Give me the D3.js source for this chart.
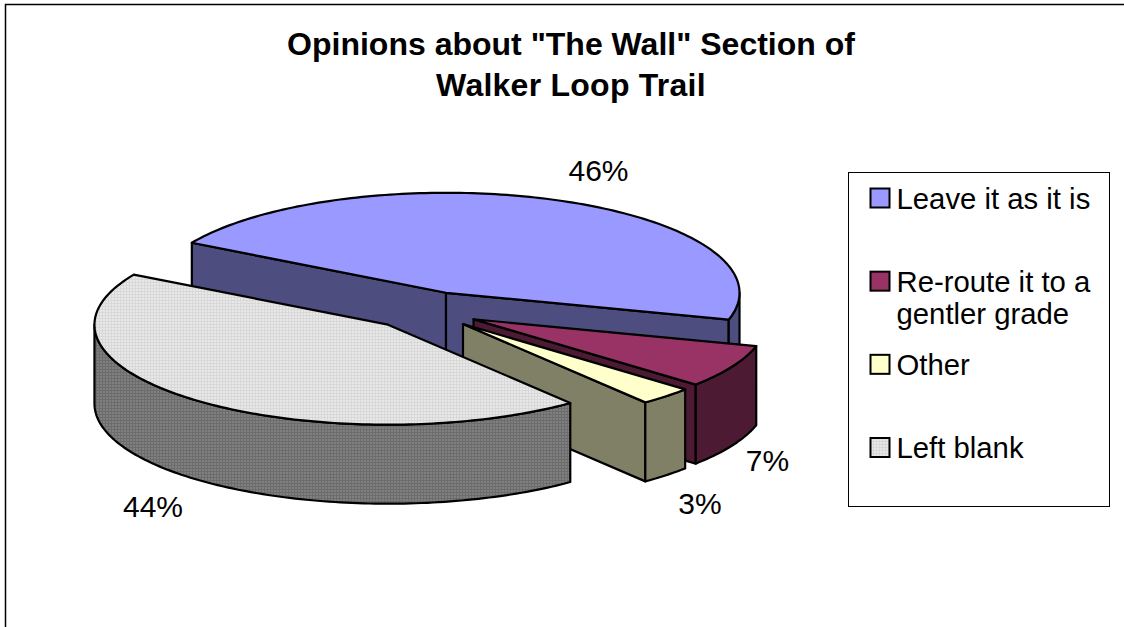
<!DOCTYPE html>
<html>
<head>
<meta charset="utf-8">
<script src="https://cdn.jsdelivr.net/npm/d3@7"></script>
<style>
  html, body { margin: 0; padding: 0; background: #fff; }
  svg { display: block; }
  text { font-family: "Liberation Sans", Arial, sans-serif; fill: #000; }
</style>
</head>
<body>
<script>
'use strict';

const categories = ["Leave it as it is", "Re-route it to a gentler grade", "Other", "Left blank"];
const values = [46, 7, 3, 44];
const legendLines = [["Leave it as it is"], ["Re-route it to a", "gentler grade"], ["Other"], ["Left blank"]];
const topColors = ["#9999ff", "#993366", "#ffffcc", "url(#dotsLight)"];
const wallColors = ["#4d4d80", "#4d1a33", "#808066", "url(#dotsDark)"];
const titleLines = ['Opinions about "The Wall" Section of', "Walker Loop Trail"];

const width = 1124, height = 627;

// pie layout on the tilted plane
const cx = 424.4, cy = 310.3;
const rx = 293.5, ry = 100, depth = 79;
const explode = 0.19;
const startDeg = -60;

const svg = d3.select("body").append("svg")
  .attr("width", width)
  .attr("height", height);

const defs = svg.append("defs");

function makeDots(id, base, line) {
  let p = defs.append("pattern")
    .attr("id", id)
    .attr("width", 3)
    .attr("height", 3)
    .attr("patternUnits", "userSpaceOnUse");
  p.append("rect").attr("width", 3).attr("height", 3).attr("fill", base);
  p.append("rect").attr("width", 3).attr("height", 1).attr("fill", line);
  p.append("rect").attr("width", 1).attr("height", 3).attr("fill", line);
}
makeDots("dotsLight", "#e8e8e8", "#d8d8d8");
makeDots("dotsDark", "#808080", "#6c6c6c");

// chart frame, only top and left show in the crop
svg.append("path")
  .attr("d", d3.line()([[5.5, height], [5.5, 4.5], [width, 4.5]]))
  .attr("fill", "none")
  .attr("stroke", "#000")
  .attr("stroke-width", 1.5);

svg.append("g").selectAll("text")
  .data(titleLines)
  .enter()
  .append("text")
    .attr("x", 571)
    .attr("y", (d, i) => 55 + i * 41)
    .attr("text-anchor", "middle")
    .style("font-size", "32px")
    .style("font-weight", "bold")
    .style("letter-spacing", (d, i) => i == 1 ? "0.25px" : null)
    .text((d) => d);

const pie = d3.pie()
  .sort(null)
  .startAngle(startDeg * Math.PI / 180)
  .endAngle((startDeg + 360) * Math.PI / 180);

const slices = pie(values).map((s, i) => {
  let mid = (s.startAngle + s.endAngle) / 2;
  return {
    index: i,
    start: s.startAngle,
    end: s.endAngle,
    ox: cx + explode * rx * Math.sin(mid),
    oy: cy - explode * ry * Math.cos(mid)
  };
});

function rim(s, a) {
  return [s.ox + rx * Math.sin(a), s.oy - ry * Math.cos(a)];
}

function rimPoints(s, a0, a1) {
  let n = Math.max(2, Math.ceil(Math.abs(a1 - a0) / 0.02));
  return d3.range(n + 1).map((k) => rim(s, a0 + (a1 - a0) * k / n));
}

const close = (pts) => d3.line()(pts) + "Z";
const drop = (pts) => pts.map((p) => [p[0], p[1] + depth]);

function addFace(g, pts, fill) {
  g.append("path")
    .attr("d", close(pts))
    .attr("fill", fill)
    .attr("stroke", "#000")
    .attr("stroke-width", 2.2)
    .attr("stroke-linejoin", "round");
}

function cutWall(s, a) {
  let top = [[s.ox, s.oy], rim(s, a)];
  return top.concat(drop(top).reverse());
}

// only the part of the rim on the front half of the ellipse has a wall
function outerWall(s) {
  let a0 = Math.max(s.start, Math.PI / 2);
  let a1 = Math.min(s.end, Math.PI * 1.5);
  if (a1 <= a0) return null;
  let top = rimPoints(s, a0, a1);
  return top.concat(drop(top).reverse());
}

const pieGroup = svg.append("g");

slices.forEach((s) => {
  let g = pieGroup.append("g");
  // start face looks at the viewer for the slice that crosses the back
  if (s.index == 0) addFace(g, cutWall(s, s.start), wallColors[s.index]);
  if (s.index < 3) addFace(g, cutWall(s, s.end), wallColors[s.index]);
  let outer = outerWall(s);
  if (outer) addFace(g, outer, wallColors[s.index]);
  addFace(g, [[s.ox, s.oy]].concat(rimPoints(s, s.start, s.end)), topColors[s.index]);
});

// data labels
const labelSpots = [[598.5, 181], [767.5, 470.5], [700, 513.5], [153, 517]];
svg.append("g").selectAll("text")
  .data(values)
  .enter()
  .append("text")
    .attr("x", (d, i) => labelSpots[i][0])
    .attr("y", (d, i) => labelSpots[i][1])
    .attr("text-anchor", "middle")
    .style("font-size", "30px")
    .text((d) => d + "%");

// legend
const legend = svg.append("g");
legend.append("rect")
  .attr("x", 848.5)
  .attr("y", 172.5)
  .attr("width", 261)
  .attr("height", 334)
  .attr("fill", "#fff")
  .attr("stroke", "#000")
  .attr("stroke-width", 1);

const legendY = d3.scalePoint()
  .domain(categories)
  .range([188.5, 438]);

categories.forEach((c, i) => {
  legend.append("rect")
    .attr("x", 870.5)
    .attr("y", legendY(c))
    .attr("width", 19)
    .attr("height", 19)
    .attr("fill", topColors[i])
    .attr("stroke", "#000")
    .attr("stroke-width", 2);

  legendLines[i].forEach((line, j) => {
    legend.append("text")
      .attr("x", 896.5)
      .attr("y", legendY(c) + 20 + j * 32)
      .style("font-size", "29.3px")
      .text(line);
  });
});
</script>
</body>
</html>
